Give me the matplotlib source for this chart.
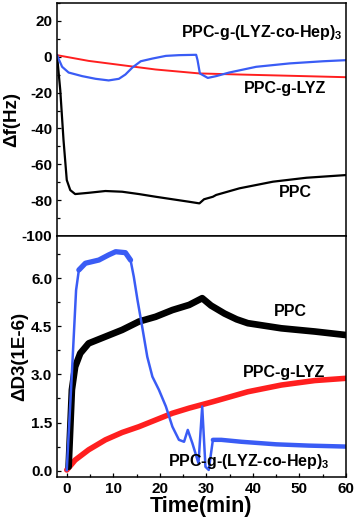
import matplotlib
matplotlib.use("Agg")
import matplotlib.pyplot as plt
from matplotlib.ticker import MultipleLocator, FormatStrFormatter
import numpy as np

plt.rcParams['font.family'] = ['Liberation Sans', 'DejaVu Sans']
plt.rcParams['font.weight'] = 'bold'
plt.rcParams['axes.unicode_minus'] = False
plt.rcParams['mathtext.fontset'] = 'custom'
plt.rcParams['mathtext.rm'] = 'Liberation Sans:bold'
plt.rcParams['mathtext.bf'] = 'Liberation Sans:bold'
plt.rcParams['mathtext.it'] = 'Liberation Sans:bold'

# ---- Top panel: frequency shift (Hz) ----
t_f_black = [-2.1, -1.4, -0.7, 0.0, 0.75, 1.8, 4.7, 8.3, 11.9, 15.5, 19.1, 22.7, 26.3, 28.5,
             29.5, 31.4, 32.1, 37.1, 44.3, 51.5, 60]
f_black = [0.9, -18.6, -46.5, -68.8, -74.4, -76.6, -75.9, -74.9, -75.3, -76.6, -78.1, -79.5, -80.9, -81.8,
           -79.5, -78.1, -77.1, -73.4, -69.7, -67.5, -66]

t_f_blue = [-2.1, -1.0, 0.4, 3.3, 6.2, 9.0, 11.2, 12.6, 14.1, 15.9, 18.4, 21.3, 24.1, 27.8, 28.1,
            28.6, 30.3, 32.1, 34.9, 40.7, 47.9, 55.1, 60]
f_blue = [0.9, -5.6, -8.8, -10.8, -12.3, -13.2, -12.3, -9.9, -6.0, -2.5, -1.0, 0.5, 0.9, 1.1, -1.9,
          -9.3, -11.8, -10.8, -8.8, -5.6, -3.7, -2.5, -1.9]

t_f_red = [-2.1, 4.7, 11.9, 19.1, 28.5, 37.1, 47.9, 60]
f_red = [0.9, -2.3, -4.7, -7.1, -9.3, -9.9, -10.6, -11.4]

# ---- Bottom panel: dissipation shift (1E-6) ----
t_d_black = [0.4, 1.1, 1.8, 2.9, 4.7, 8.3, 11.9, 15.5, 19.1, 22.7, 26.3, 29.1, 31.0, 33.9, 36.5,
             38.9, 46.1, 53.3, 60]
d_black = [0.12, 2.52, 3.24, 3.66, 3.97, 4.18, 4.39, 4.65, 4.8, 5.01, 5.17, 5.38, 5.15, 4.9, 4.72,
           4.6, 4.44, 4.34, 4.23]

t_d_blue = [0.0, 1.1, 2.0, 2.6, 4.0, 6.9, 9.0, 10.5, 12.6, 13.7, 14.4, 15.2, 16.2, 17.3, 18.4,
            19.8, 21.3, 22.7, 24.1, 25.2, 26.0, 27.0, 28.3, 29.1, 29.8, 30.5, 31.4, 33.2, 37.5,
            45, 52, 60]
d_blue = [0.02, 3.04, 5.63, 6.26, 6.47, 6.57, 6.73, 6.83, 6.8, 6.57, 6.05, 5.32, 4.49, 3.55, 2.93,
          2.52, 2.0, 1.37, 0.96, 0.9, 1.27, 0.85, 0.23, 2.0, 0.12, 0.02, 0.96, 0.96, 0.9,
          0.82, 0.78, 0.75]

t_d_red = [0, 1.8, 4.7, 8.3, 11.9, 15.5, 19.1, 22.7, 26.3, 31.4, 38.9, 46.1, 53.3, 60]
d_red = [0.02, 0.33, 0.65, 0.96, 1.19, 1.37, 1.58, 1.79, 1.95, 2.15, 2.46, 2.67, 2.81, 2.88]

labels = ["PPC", "PPC-g-LYZ", r"PPC-g-(LYZ-co-Hep)$_3$"]
x_ticks = [0, 10, 20, 30, 40, 50, 60]

BLUE = '#3a5cf5'
RED = '#ff1f1f'
BLACK = '#000000'

fig = plt.figure(figsize=(3.58, 5.24), dpi=100)
L, R = 57 / 358, 346 / 358
y_mid = 1 - 236 / 524
ax1 = fig.add_axes([L, y_mid, R - L, (1 - 3 / 524) - y_mid])
ax2 = fig.add_axes([L, 1 - 476.7 / 524, R - L, y_mid - (1 - 476.7 / 524)])

for ax in (ax1, ax2):
    for s in ax.spines.values():
        s.set_linewidth(1.1)
    ax.tick_params(which='both', direction='in', width=0.9, labelsize=11)
    ax.tick_params(which='major', length=3)
    ax.tick_params(which='minor', length=2)
    ax.set_xlim(-2.1, 60)

# top
ax1.plot(t_f_red, f_red, color=RED, lw=1.4)
ax1.plot(t_f_black, f_black, color=BLACK, lw=1.6)
ax1.plot(t_f_blue, f_blue, color=BLUE, lw=1.6)
ax1.set_ylim(-100, 30)
ax1.yaxis.set_major_locator(MultipleLocator(20))
ax1.yaxis.set_minor_locator(MultipleLocator(10))
ax1.set_xticks([])
ax1.tick_params(axis='x', which='both', bottom=False, labelbottom=False)
ax1.set_ylabel("Δf(Hz)", fontsize=13.5, fontweight='bold', labelpad=1)
ax1.text(24.6, 13.5, labels[2], fontsize=11.5, fontweight='bold', va='center', ha='left')
ax1.text(38.1, -17.5, labels[1], fontsize=11.5, fontweight='bold', va='center', ha='left')
ax1.text(45.5, -76, labels[0], fontsize=11.5, fontweight='bold', va='center', ha='left')

# bottom
ax2.plot(t_d_red, d_red, color=RED, lw=4, solid_capstyle='round')
ax2.plot(t_d_black, d_black, color=BLACK, lw=4.8, solid_capstyle='round')
ax2.plot(t_d_blue, d_blue, color=BLUE, lw=1.8)
ax2.plot(t_d_blue[3:10], d_blue[3:10], color=BLUE, lw=3.8, solid_capstyle='round')
ax2.plot(t_d_blue[26:], d_blue[26:], color=BLUE, lw=3.2, solid_capstyle='round')
ax2.set_ylim(-0.19, 7.32)
ax2.yaxis.set_major_locator(MultipleLocator(1.5))
ax2.yaxis.set_minor_locator(MultipleLocator(0.75))
ax2.yaxis.set_major_formatter(FormatStrFormatter('%.1f'))
ax2.set_xticks(x_ticks)
ax2.xaxis.set_minor_locator(MultipleLocator(5))
ax2.set_xlabel("Time(min)", fontsize=15.5, fontweight='bold', labelpad=0)
ax2.set_ylabel("ΔD3(1E-6)", fontsize=13.5, fontweight='bold', labelpad=2)
ax2.text(44.6, 4.95, labels[0], fontsize=11.5, fontweight='bold', va='center', ha='left')
ax2.text(37.9, 3.05, labels[1], fontsize=11.5, fontweight='bold', va='center', ha='left')
ax2.text(21.7, 0.28, labels[2], fontsize=11.5, fontweight='bold', va='center', ha='left')

for lab in ax1.get_yticklabels() + ax2.get_yticklabels() + ax2.get_xticklabels():
    lab.set_fontweight('bold')

fig.savefig("out.png", dpi=100)
